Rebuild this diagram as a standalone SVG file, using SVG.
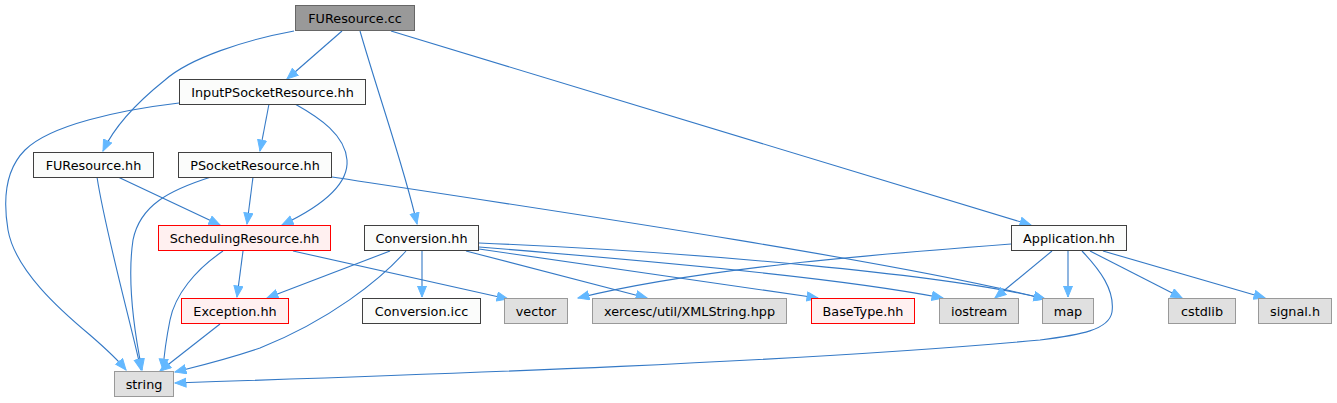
<svg xmlns="http://www.w3.org/2000/svg" width="1337" height="403" viewBox="0 0 1337 403">
<style>
.n rect{fill:#fbfcfb;stroke:#404040;stroke-width:1}
.g rect{fill:#e0e0e0;stroke:#999999}
.r rect{fill:#fff0f0;stroke:#ff0000}
.top rect{fill:#999999;stroke:#666666}
text{font-family:"DejaVu Sans",sans-serif;font-size:12.8px;fill:#000;text-anchor:middle}
#edges path{fill:none;stroke:#3479c6;stroke-width:1.1;marker-end:url(#ah)}
</style>
<defs>
<marker id="ah" markerUnits="userSpaceOnUse" markerWidth="13" markerHeight="11" refX="11.5" refY="5" orient="auto">
<path d="M0.5,0.5 L11.5,5 L0.5,9.5 z" fill="#63b8ff" stroke="#63b8ff" stroke-width="1"/>
</marker>
</defs>
<rect width="1337" height="403" fill="#ffffff"/>
<g id="edges">
<path d="M342,31 L287,79"/>
<path d="M294,31 C245,40 190,58 165,80 C140,100 115,125 103,151"/>
<path d="M360,31 C380,100 405,170 417,224"/>
<path d="M391,31 L1031,225"/>
<path d="M179,103 C120,110 50,125 25,150 C5,170 3,200 8,230 C15,270 60,310 90,335 C105,348 118,360 126,370"/>
<path d="M269,104 L260,151"/>
<path d="M295,104 C320,118 345,135 347,160 C349,185 320,207 282,225"/>
<path d="M97,177 C105,230 130,320 141,370"/>
<path d="M118,177 L220,225"/>
<path d="M211,177 C170,190 140,205 133,240 C127,280 134,330 142,370"/>
<path d="M253,177 L247,224"/>
<path d="M332,177 C550,210 900,262 1045,299"/>
<path d="M223,251 C195,270 175,295 170,320 C166,340 164,355 163,370"/>
<path d="M243,251 L237,297"/>
<path d="M293,251 L508,299"/>
<path d="M390,251 L267,298"/>
<path d="M406,251 C380,280 330,320 260,348 C225,360 195,367 175,372"/>
<path d="M422,251 L422,297"/>
<path d="M466,251 L647,298"/>
<path d="M479,249 L818,298"/>
<path d="M479,247 C700,265 850,280 943,298"/>
<path d="M479,243 C700,252 950,275 1045,299"/>
<path d="M1011,244 C880,254 700,268 578,298"/>
<path d="M1052,251 L995,298"/>
<path d="M1068,251 L1068,297"/>
<path d="M1082,251 C1100,270 1115,290 1112,312 C1109,330 1080,335 1040,340 C800,362 450,374 175,383"/>
<path d="M1090,251 L1182,298"/>
<path d="M1103,251 L1265,298"/>
<path d="M220,324 L160,371"/>
</g>
<g id="node-furesource-cc" class="top"><rect x="295.5" y="5.5" width="119" height="25"/><text x="355" y="22.5">FUResource.cc</text></g>
<g id="node-inputpsocketresource-hh" class="n"><rect x="179.5" y="79.5" width="186" height="25"/><text x="272.5" y="96.5">InputPSocketResource.hh</text></g>
<g id="node-furesource-hh" class="n"><rect x="33.5" y="152.5" width="120" height="25"/><text x="93.5" y="169.5">FUResource.hh</text></g>
<g id="node-psocketresource-hh" class="n"><rect x="178.5" y="152.5" width="153" height="25"/><text x="255" y="169.5">PSocketResource.hh</text></g>
<g id="node-schedulingresource-hh" class="r"><rect x="158.5" y="225.5" width="172" height="25"/><text x="244.5" y="242.5">SchedulingResource.hh</text></g>
<g id="node-conversion-hh" class="n"><rect x="364.5" y="225.5" width="114" height="25"/><text x="421.5" y="242.5">Conversion.hh</text></g>
<g id="node-application-hh" class="n"><rect x="1011.5" y="225.5" width="115" height="25"/><text x="1069" y="242.5">Application.hh</text></g>
<g id="node-exception-hh" class="r"><rect x="181.5" y="298.5" width="107" height="25"/><text x="235" y="315.5">Exception.hh</text></g>
<g id="node-conversion-icc" class="n"><rect x="362.5" y="298.5" width="118" height="25"/><text x="421.5" y="315.5">Conversion.icc</text></g>
<g id="node-vector" class="g"><rect x="504.5" y="298.5" width="63" height="25"/><text x="536" y="315.5">vector</text></g>
<g id="node-xmlstring" class="g"><rect x="592.5" y="298.5" width="194" height="25"/><text x="689.5" y="315.5">xercesc/util/XMLString.hpp</text></g>
<g id="node-basetype-hh" class="r"><rect x="811.5" y="298.5" width="103" height="25"/><text x="863" y="315.5">BaseType.hh</text></g>
<g id="node-iostream" class="g"><rect x="939.5" y="298.5" width="79" height="25"/><text x="979" y="315.5">iostream</text></g>
<g id="node-map" class="g"><rect x="1042.5" y="298.5" width="51" height="25"/><text x="1068" y="315.5">map</text></g>
<g id="node-cstdlib" class="g"><rect x="1168.5" y="298.5" width="67" height="25"/><text x="1202" y="315.5">cstdlib</text></g>
<g id="node-signal-h" class="g"><rect x="1258.5" y="298.5" width="73" height="25"/><text x="1295" y="315.5">signal.h</text></g>
<g id="node-string" class="g"><rect x="114.5" y="371.5" width="59" height="25"/><text x="144" y="388.5">string</text></g>
</svg>
